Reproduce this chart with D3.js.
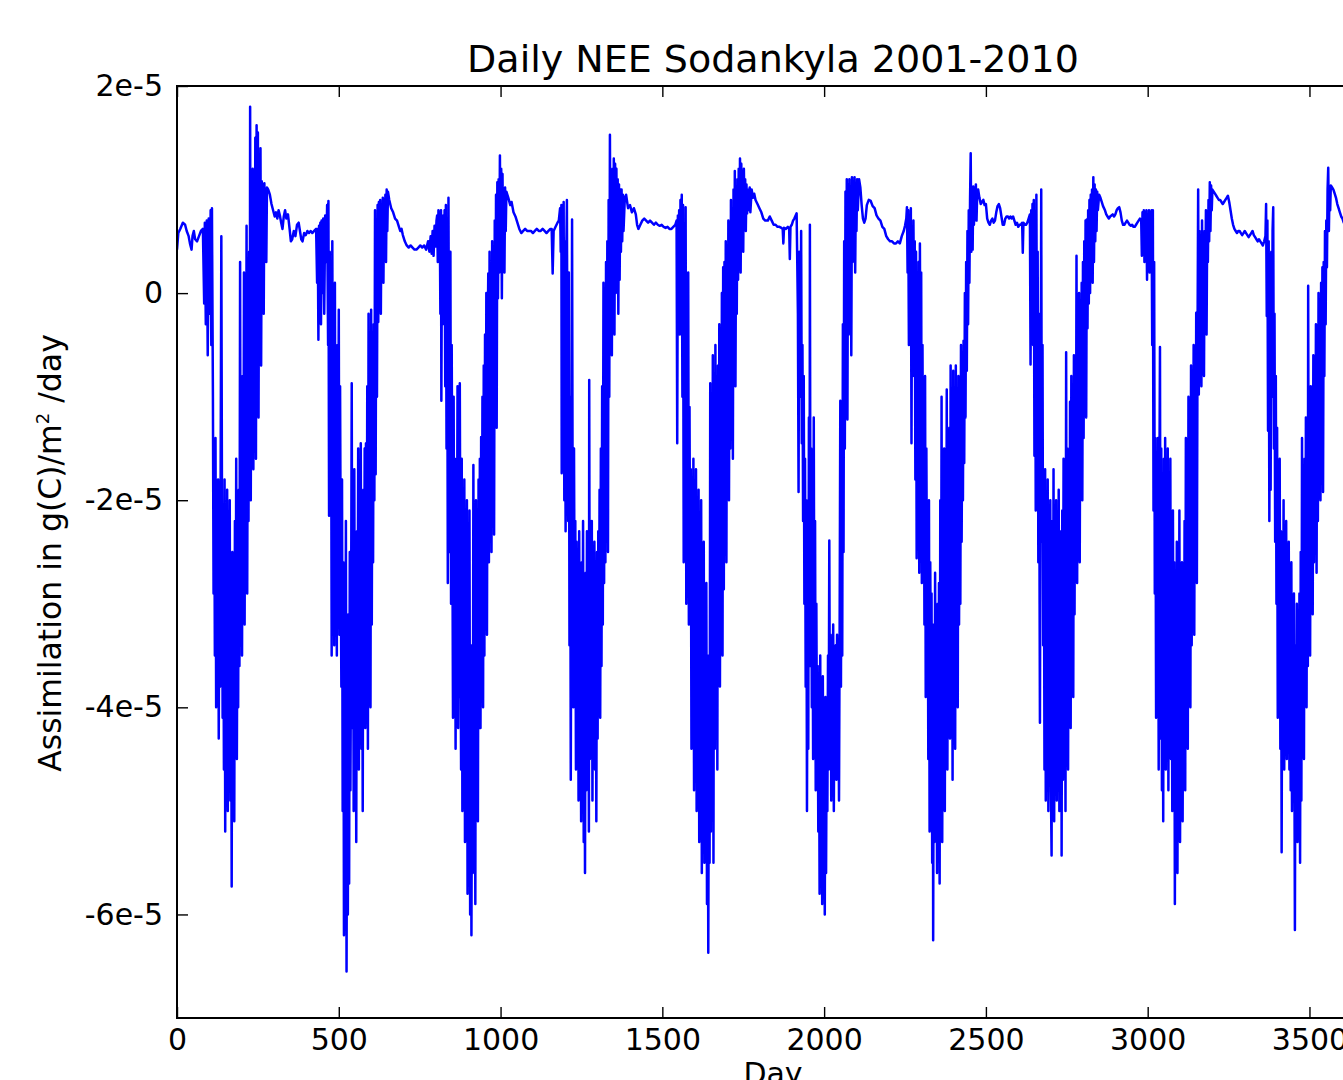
<!DOCTYPE html>
<html>
<head>
<meta charset="utf-8">
<script src="https://cdn.jsdelivr.net/npm/d3@7"></script>
<style>
  body { margin: 0; background: #fff; }
  svg { display: block; font-family: "DejaVu Sans", sans-serif; }
</style>
</head>
<body>
<svg id="chart"></svg>
<script>
const width = 1343;
const height = 1080;
const unit = 1e-5; // values below are in units of 1e-5

const title = 'Daily NEE Sodankyla 2001-2010';
const xTicks = [0, 500, 1000, 1500, 2000, 2500, 3000, 3500];
const yTicks = [-6e-5, -4e-5, -2e-5, 0, 2e-5];
const yTickLabels = ['-6e-5', '-4e-5', '-2e-5', '0', '2e-5'];

// [day, NEE], year by year
const nee2001 = [[0,0.42],[4,0.58],[10,0.62],[18,0.68],[25,0.66],[30,0.6],[36,0.55],[40,0.48],[45,0.42],[48,0.55],[52,0.6],[56,0.52],[62,0.5],[68,0.55],[74,0.6],[80,0.62],
  [84,-0.1],[86,0.68],[89,-0.3],[92,0.7],[95,-0.6],[98,0.72],[101,-0.2],[104,0.8],[106,-0.5],[108,0.82],
  [111,-1.0],[113,-2.9],[115,-1.5],[117,-3.5],[119,-1.4],[121,-4.0],[123,-2.2],[125,-3.3],[127,-1.8],[129,-4.3],[131,-2.5],[133,-3.8],[135,-1.6],[137,0.55],[139,-2.0],[141,-4.1],
  [143,-2.4],[145,-4.6],[147,-1.8],[149,-5.2],[151,-2.6],[153,-4.4],[155,-1.9],[157,-5.0],[159,-2.8],[161,-4.5],[163,-2.0],[165,-4.9],[167,-3.0],[169,-5.73],[171,-2.5],[173,-4.7],[175,-3.2],[177,-5.1],[179,-2.2],[181,-4.2],[183,-1.6],[185,-4.5],[187,-2.7],[189,-4.0],[191,-1.9],[193,-3.6],
  [195,0.3],[197,-3.4],[199,-1.2],[201,-3.5],[203,-0.8],[205,-2.9],[207,0.2],[209,-3.2],[211,-1.0],[213,-2.5],[215,0.65],[217,-2.9],[219,-0.5],[221,-2.2],[223,0.4],[225,-1.4],[226,1.8],[228,-2.0],[230,0.6],[232,-1.2],[234,1.2],[236,-1.7],
  [238,0.5],[240,-1.0],[242,1.5],[244,-1.6],[246,1.62],[248,-0.5],[250,1.55],[252,-1.2],[254,1.1],[256,0.2],[258,1.4],[260,-0.7],[262,1.08],[264,0.3],[266,1.05],[268,-0.2],[270,1.06],[272,0.5],[274,1.0],[276,0.3],[278,1.02],
  [282,1.0],[287,0.95],[292,0.86],[297,0.8],[302,0.74],[306,0.78],[310,0.72],[314,0.8],[318,0.75],
  [322,0.68],[326,0.62],[330,0.74],[334,0.8],[338,0.72],[343,0.76],[348,0.62],[352,0.5],[356,0.52]];

const nee2002 = [[361,0.6],[366,0.55],[371,0.66],[376,0.68],[380,0.6],[384,0.52],[388,0.5],[393,0.58],[398,0.56],[403,0.6],[408,0.58],[413,0.6],[418,0.58],[424,0.6],[430,0.62],
  [433,0.1],[435,0.62],[437,-0.45],[439,0.65],[441,0.2],[443,0.68],[445,-0.3],[447,0.7],[449,0.0],[452,0.72],[455,-0.2],[458,0.75],[461,0.3],[464,0.85],[467,-0.5],[468,0.89],
  [470,-2.15],[472,0.4],[474,-1.6],[476,-0.2],[478,-3.5],[480,0.5],[482,-2.0],[484,-0.6],[486,-3.4],[488,0.1],[490,-2.5],[492,-1.0],[494,-3.5],[496,-0.5],[498,-2.0],[500,-0.16],[502,-3.3],[504,-0.9],[506,-2.6],[508,-3.8],[510,-1.8],[512,-5.0],[514,-2.6],[516,-6.2],[518,-3.0],[520,-5.5],[522,-2.2],[524,-6.55],[526,-4.0],[528,-6.0],[530,-3.1],[532,-5.7],[534,-2.5],[536,-4.8],[538,-3.2],[540,-0.87],[542,-4.2],[544,-2.0],[546,-5.0],[548,-1.7],[550,-4.4],[552,-2.6],[554,-5.3],[556,-2.3],[558,-4.0],[560,-1.5],[562,-4.6],[564,-2.0],[566,-3.6],[568,-1.45],[570,-4.4],[572,-2.5],[574,-5.0],[576,-1.9],[578,-3.9],[580,-1.5],
  [582,-4.2],[584,-1.45],[586,-3.8],[588,-0.9],[590,-4.4],[592,-0.2],[594,-3.6],[596,-1.5],[598,-4.0],[600,-0.16],[602,-3.2],[604,-0.8],[606,-2.6],[608,-0.3],[610,-2.0],[612,0.8],[614,-1.75],[616,0.5],[618,-1.0],
  [620,0.85],[622,-0.28],[624,0.88],[626,0.0],[628,0.9],[630,-0.2],[632,0.86],[634,0.3],[636,0.92],[638,0.1],[640,0.9],[642,0.4],[644,0.95],[646,0.3],[648,1.0],[650,0.6],[652,0.98],
  [656,0.9],[662,0.82],[668,0.78],[674,0.72],[680,0.7],[686,0.64],[690,0.6],[694,0.62],[698,0.56],[704,0.5],[710,0.46],[716,0.44],[722,0.46],[728,0.44]];

const nee2003 = [[734,0.42],[740,0.42],[746,0.44],[752,0.46],[758,0.44],[764,0.46],[770,0.42],[776,0.5],[780,0.4],[784,0.55],[787,0.38],[790,0.6],[793,0.36],[796,0.65],[799,0.45],[802,0.7],
  [804,0.75],[806,0.3],[808,0.8],[810,0.5],[812,0.78],[814,-0.2],[816,0.8],[817,-1.04],[819,0.6],[821,-0.3],[823,0.75],[825,0.2],[827,0.8],[829,-0.9],[831,0.85],[833,-1.5],[835,0.3],[837,-2.8],[839,0.92],[841,-1.2],
  [843,-2.5],[845,0.4],[847,-3.0],[849,-0.5],[851,-2.2],[853,-4.1],[855,-1.0],[857,-3.6],[859,-1.6],[861,-4.4],[863,-2.0],[865,-3.2],[867,-0.9],[869,-4.2],[871,-1.8],[873,-3.9],[874,-0.87],[876,-2.9],
  [878,-4.6],[880,-1.6],[882,-5.0],[884,-2.2],[886,-4.3],[888,-1.8],[890,-5.3],[892,-2.6],[894,-4.5],[896,-2.0],[898,-5.8],[900,-3.0],[902,-4.9],[904,-2.1],[906,-6.0],[908,-3.4],[910,-6.2],[912,-4.0],[914,-5.6],[916,-1.66],[918,-5.2],[920,-2.4],[922,-5.9],[924,-2.0],[926,-4.6],[928,-2.6],[930,-5.1],[932,-1.8],[934,-4.2],
  [936,-1.6],[938,-4.2],[940,-1.39],[942,-3.8],[944,-1.0],[946,-4.0],[948,-0.7],[950,-3.5],[952,-0.4],[954,-3.0],[956,0.0],[958,-3.3],[960,-0.5],[962,0.19],[964,-2.6],[966,0.4],[968,-2.0],[970,-0.2],[972,-2.5],[974,0.5],[976,-1.6],[978,0.3],[980,-2.33],[982,0.7],[984,-1.0],[986,0.95],[988,-1.3],[990,1.07],
  [992,-0.05],[994,1.1],[996,0.2],[998,1.33],[1000,0.3],[1002,1.2],[1004,-0.05],[1006,1.15],[1008,0.4],[1010,1.0],[1012,0.2],[1014,1.02],[1016,0.6],[1018,0.98],
  [1024,0.92],[1030,0.85],[1034,0.88],[1040,0.78],[1046,0.74],[1052,0.68],[1058,0.62],[1064,0.58],[1070,0.6],[1076,0.62],[1082,0.6],[1088,0.6]];

const nee2004 = [[1094,0.6],[1100,0.58],[1106,0.6],[1112,0.62],[1118,0.6],[1124,0.6],[1130,0.62],[1136,0.6],[1142,0.58],[1148,0.6],[1154,0.62],[1158,0.62],[1161,0.19],[1164,0.6],[1170,0.64],[1176,0.68],[1180,0.7],
  [1184,0.82],[1186,0.4],[1188,0.85],[1189,-1.74],[1191,0.7],[1193,-0.8],[1195,0.88],[1197,-2.0],[1199,0.5],[1201,-2.3],[1203,0.3],[1205,0.9],[1207,-1.2],[1209,-2.2],[1211,0.2],[1213,-3.4],[1215,-1.0],[1217,-4.7],[1219,-2.0],[1221,0.71],[1223,-2.4],[1225,-4.0],[1227,-1.5],[1229,-3.3],
  [1231,-2.2],[1233,-4.6],[1235,-2.4],[1237,-4.0],[1239,-2.8],[1241,-4.9],[1243,-2.3],[1245,-4.4],[1247,-3.0],[1249,-5.1],[1251,-2.6],[1253,-4.3],[1255,-2.2],[1257,-5.3],[1259,-3.1],[1261,-5.6],[1263,-2.7],[1265,-4.8],[1267,-2.3],[1269,-4.1],[1271,-2.9],[1273,-5.2],[1274,-0.84],[1276,-4.5],[1278,-2.6],[1280,-4.0],[1282,-2.2],[1284,-4.9],[1286,-2.7],[1288,-3.9],[1290,-2.4],[1292,-4.6],[1294,-2.8],[1296,-5.1],[1298,-2.5],[1300,-4.3],[1302,-2.3],[1304,-3.8],[1306,-1.9],[1308,-4.1],
  [1310,-1.5],[1312,-3.6],[1314,-0.9],[1316,-3.2],[1318,0.1],[1320,-2.8],[1322,-0.4],[1324,-2.6],[1326,0.3],[1328,-1.8],[1330,0.5],[1332,-2.5],[1334,0.9],[1336,-1.0],[1338,1.53],[1340,-0.3],[1342,0.9],[1344,-0.6],[1346,1.2],[1348,0.2],
  [1350,1.3],[1352,-0.4],[1354,1.25],[1356,0.0],[1358,1.2],[1360,0.3],[1362,1.1],[1364,-0.2],[1366,1.05],[1368,0.13],[1370,1.0],[1372,0.4],[1374,1.0],[1376,0.5],[1378,0.95],[1380,0.6],[1384,0.92],[1388,0.95],
  [1394,0.82],[1400,0.85],[1406,0.78],[1412,0.82],[1418,0.76],[1422,0.66],[1426,0.62],[1432,0.66],[1438,0.7],[1444,0.72],[1450,0.7],[1456,0.68]];

const nee2005 = [[1462,0.7],[1468,0.68],[1474,0.66],[1480,0.68],[1486,0.66],[1492,0.65],[1498,0.66],[1504,0.64],[1510,0.63],[1516,0.64],[1522,0.62],[1528,0.62],[1534,0.64],[1540,0.66],
  [1544,0.7],[1546,-1.45],[1548,0.75],[1550,0.3],[1552,0.8],[1554,-0.4],[1556,0.9],[1558,0.2],[1560,0.95],[1562,-1.0],[1564,0.85],[1566,-2.6],[1568,0.6],[1570,-1.8],[1572,0.83],[1574,-3.0],[1576,-0.5],[1578,-2.3],[1580,0.2],[1582,-3.2],[1584,-1.1],
  [1586,-2.9],[1588,-1.7],[1590,-4.4],[1592,-2.0],[1594,-3.8],[1596,-1.6],[1598,-4.8],[1600,-2.2],[1602,-4.1],[1604,-1.7],[1606,-5.0],[1608,-2.5],[1610,-4.4],[1612,-1.9],[1614,-5.3],[1616,-2.15],[1618,-4.6],[1620,-2.0],[1622,-5.6],[1624,-3.0],[1626,-4.9],[1628,-2.4],[1630,-5.5],[1632,-3.3],[1634,-5.0],[1636,-2.8],[1638,-5.9],[1640,-3.5],[1642,-6.37],[1644,-4.0],[1646,-5.5],
  [1648,-0.87],[1650,-5.2],[1652,-2.0],[1654,-4.7],[1656,-0.6],[1658,-5.5],[1660,-1.3],[1662,-4.4],[1664,-0.5],[1666,-3.9],[1668,-1.1],[1670,-4.6],[1672,-0.7],[1674,-3.5],[1676,-0.3],[1678,-3.8],[1680,-0.9],[1682,-3.2],[1684,0.0],[1686,-3.5],[1688,0.25],
  [1690,-2.86],[1692,0.3],[1694,-2.2],[1696,0.5],[1698,-2.6],[1700,0.2],[1702,-1.8],[1704,0.7],[1706,-2.0],[1708,0.4],[1710,-1.5],[1712,0.9],[1714,-1.2],[1716,0.6],[1718,-1.6],[1720,1.0],[1722,-0.75],[1724,1.18],[1726,-0.9],[1728,0.8],
  [1730,-0.2],[1732,1.1],[1734,0.13],[1736,1.2],[1738,0.3],[1740,1.3],[1742,0.2],[1744,1.25],[1746,0.5],[1748,1.15],[1750,0.4],[1752,1.2],[1754,0.7],[1756,1.1],[1758,0.6],[1760,1.05],[1762,0.77],[1764,1.0],[1766,0.8],
  [1770,1.02],[1772,0.78],[1776,1.0],[1780,0.92],[1784,0.96],[1788,0.9],[1794,0.86],[1800,0.82],[1806,0.78],[1812,0.72],[1818,0.7]];

const nee2006 = [[1826,0.7],[1832,0.74],[1838,0.7],[1844,0.66],[1850,0.66],[1856,0.64],[1862,0.64],[1868,0.63],[1872,0.62],[1874,0.48],[1876,0.63],[1882,0.62],[1888,0.64],[1892,0.62],[1894,0.33],[1896,0.64],[1900,0.66],[1904,0.7],[1908,0.72],[1912,0.75],[1915,0.77],
  [1917,0.3],[1919,-0.2],[1921,-1.92],[1923,0.4],[1925,-0.16],[1927,-1.0],[1929,0.6],[1931,-1.45],[1933,-0.5],[1935,-2.2],[1937,-0.8],[1939,-3.0],[1941,-1.6],[1943,-3.8],[1945,-2.0],[1947,-5.0],[1949,-2.6],[1951,-4.4],[1953,-1.2],[1955,-3.6],[1956,0.66],[1958,-3.2],[1960,-1.5],[1962,-4.0],[1964,-2.6],[1966,-4.5],[1968,-1.2],[1970,-3.9],[1972,-2.2],[1974,-4.8],[1976,-3.0],
  [1978,-4.6],[1980,-3.6],[1982,-5.2],[1984,-3.8],[1986,-5.8],[1988,-3.5],[1990,-5.4],[1992,-4.0],[1994,-5.9],[1996,-3.7],[1998,-5.2],[2000,-4.1],[2002,-6.0],[2004,-3.9],[2006,-5.6],[2008,-4.2],[2010,-5.0],[2012,-3.5],[2014,-4.6],[2016,-2.39],
  [2018,-4.4],[2020,-3.3],[2022,-4.9],[2024,-3.6],[2026,-4.5],[2028,-3.2],[2030,-5.0],[2032,-3.5],[2034,-4.2],[2036,-3.4],[2038,-4.7],[2040,-3.3],[2042,-4.4],[2044,-3.6],[2046,-4.9],[2048,-3.2],[2050,-1.04],[2052,-3.8],[2054,-1.6],[2056,-3.5],
  [2058,-0.3],[2060,-2.5],[2062,0.5],[2064,-1.5],[2066,0.98],[2068,-1.2],
  [2070,1.1],[2072,-1.22],[2074,1.05],[2076,-0.4],[2078,1.1],[2080,0.0],[2082,1.0],[2084,-0.6],[2086,1.12],[2088,0.3],[2090,1.08],[2092,0.5],[2094,1.12],[2096,0.2],[2098,1.0],[2100,0.6],[2102,1.1],[2104,0.8],[2108,1.1],[2112,1.02],[2116,0.85],[2120,0.72],[2124,0.68],[2128,0.72],[2132,0.85],
  [2138,0.9],[2144,0.89],[2150,0.84],[2156,0.82],[2162,0.75],[2168,0.72],[2174,0.7],[2180,0.64],[2186,0.62]];

const nee2007 = [[2192,0.55],[2198,0.52],[2204,0.5],[2210,0.5],[2216,0.48],[2222,0.48],[2228,0.5],[2234,0.48],[2240,0.55],[2246,0.6],[2250,0.65],[2254,0.72],
  [2256,0.83],[2258,0.2],[2260,0.8],[2262,-0.5],[2264,0.75],[2266,0.1],[2268,0.82],[2270,-1.45],[2272,0.6],[2274,-0.8],[2276,0.7],[2278,-0.2],[2280,0.5],[2282,-1.8],[2284,0.4],[2286,-2.56],[2288,-0.3],[2290,-1.9],[2292,0.3],[2294,-2.7],
  [2296,0.48],[2298,-1.2],[2300,0.2],[2302,-2.8],[2304,-0.5],[2306,-2.2],[2308,-1.0],[2310,-3.2],[2312,-0.8],[2314,-3.9],[2316,-1.5],[2318,-3.0],[2320,-2.2],[2322,-4.5],[2324,-2.0],[2326,-5.2],[2328,-2.6],[2330,-3.8],[2332,-2.9],[2334,-5.5],[2336,-3.2],[2337,-6.25],[2339,-3.5],[2341,-5.3],[2343,-2.7],[2345,-4.8],[2347,-3.5],[2349,-5.6],[2351,-3.0],[2353,-4.6],[2355,-2.8],
  [2357,-5.7],[2359,-2.0],[2361,-4.8],[2363,-1.0],[2365,-5.3],[2367,-2.6],[2369,-4.4],[2371,-1.5],[2373,-5.0],[2375,-2.2],[2377,-4.1],[2379,-0.93],[2381,-4.6],[2383,-2.0],[2385,-3.9],[2387,-1.3],[2389,-4.3],[2391,-0.7],[2393,-3.9],[2395,-1.6],[2397,-4.7],[2399,-0.75],
  [2401,-3.85],[2403,-1.2],[2405,-4.4],[2407,-0.7],[2409,-3.5],[2411,-1.8],[2413,-4.0],[2415,-0.8],[2417,-3.2],[2419,-1.5],[2421,-3.0],[2423,-0.5],[2425,-2.4],[2427,-1.0],[2429,-2.0],[2431,-0.46],[2433,-1.64],
  [2435,0.0],[2437,-1.2],[2439,0.3],[2441,-0.75],[2443,0.6],[2445,-0.3],[2447,0.8],[2449,0.1],[2451,0.9],[2453,1.35],[2455,0.4],[2457,1.0],[2459,0.42],[2461,1.03],
  [2463,0.66],[2465,1.0],[2467,0.8],[2469,1.05],[2471,0.7],[2473,0.95],[2476,1.0],[2480,0.92],[2484,0.86],[2488,0.88],[2492,0.9],[2496,0.85],[2500,0.86],
  [2504,0.72],[2508,0.68],[2512,0.66],[2516,0.7],[2520,0.72],[2524,0.68],[2528,0.7],[2532,0.78],[2536,0.84],[2540,0.86],[2544,0.82],[2548,0.74],[2552,0.66]];

const nee2008 = [[2556,0.66],[2560,0.72],[2564,0.74],[2568,0.74],[2572,0.72],[2576,0.74],[2580,0.72],[2584,0.74],[2588,0.7],[2592,0.66],[2596,0.68],[2600,0.64],[2604,0.66],[2608,0.66],[2612,0.68],[2614,0.39],[2616,0.68],[2620,0.66],[2624,0.66],[2628,0.68],[2632,0.72],
  [2636,0.76],[2638,-0.69],[2640,0.8],[2642,0.3],[2644,0.86],[2646,-0.5],[2648,0.9],[2650,-1.57],[2652,0.7],[2654,-2.1],[2656,0.95],[2658,-1.0],[2660,0.4],[2662,-2.6],[2664,-0.2],[2666,-3.0],[2667,-4.15],[2669,-1.5],[2671,1.0],[2673,-2.4],[2675,-0.5],[2677,-3.4],[2679,-1.8],
  [2681,-4.6],[2683,-1.7],[2685,-4.9],[2687,-2.4],[2689,-4.2],[2691,-1.8],[2693,-5.0],[2695,-2.6],[2697,-4.4],[2699,-2.0],[2701,-4.8],[2703,-5.43],[2705,-2.2],[2707,-4.6],[2709,-1.7],[2711,-5.1],[2713,-2.5],[2715,-4.3],[2717,-2.0],[2719,-4.9],[2721,-2.6],[2723,-4.5],[2725,-1.9],[2727,-5.0],[2729,-2.3],[2731,-4.6],[2733,-2.8],[2734,-5.43],[2736,-2.1],[2738,-4.7],[2740,-1.6],[2742,-4.4],[2744,-2.2],[2746,-5.0],[2748,-0.57],[2750,-4.2],[2752,-1.5],[2754,-4.6],[2756,-2.0],[2758,-3.9],
  [2760,-1.05],[2762,-4.2],[2764,-0.8],[2766,-3.6],[2768,-1.2],[2770,-3.9],[2772,-0.6],[2774,-3.1],[2776,-0.9],[2778,-2.6],[2780,0.36],[2782,-2.8],[2784,-0.3],[2786,-2.2],[2788,0.0],[2790,-2.6],[2792,-0.4],[2794,-1.8],[2796,0.1],[2798,-2.0],[2800,0.3],[2802,-1.4],[2804,0.5],[2806,-1.1],[2808,0.7],[2810,-1.2],
  [2812,0.71],[2814,-0.34],[2816,0.8],[2818,-0.1],[2820,0.9],[2822,0.0],[2824,0.95],[2826,0.2],[2828,1.0],[2830,0.1],[2832,1.12],[2834,0.3],[2836,1.05],[2838,0.5],[2840,1.0],[2842,0.6],[2844,0.98],[2846,0.8],[2850,0.95],[2854,0.92],[2858,0.88],[2862,0.84],
  [2868,0.8],[2872,0.76],[2876,0.74],[2880,0.72],[2884,0.74],[2888,0.75],[2892,0.76],[2896,0.74],[2900,0.76],[2904,0.8],[2908,0.82],[2912,0.83],[2916,0.78]];

const nee2009 = [[2920,0.7],[2924,0.66],[2928,0.66],[2932,0.68],[2936,0.7],[2940,0.68],[2944,0.66],[2948,0.65],[2952,0.66],[2956,0.64],[2960,0.64],[2964,0.66],[2968,0.68],[2972,0.7],[2976,0.72],[2980,0.7],
  [2982,0.36],[2984,0.78],[2986,0.5],[2988,0.8],[2990,0.3],[2992,0.78],[2994,0.5],[2996,0.8],[2998,0.13],[3000,0.76],[3002,0.4],[3004,0.8],[3006,0.2],[3008,0.78],[3010,0.3],[3012,0.8],
  [3014,-0.5],[3016,0.8],[3018,-2.1],[3020,0.3],[3022,-2.9],[3024,-1.4],[3026,-4.1],[3028,-1.6],[3030,-3.5],[3032,-1.4],[3034,-4.6],[3036,-2.0],[3038,-0.52],[3040,-4.3],[3042,-1.5],[3044,-4.8],[3046,-2.2],[3048,-5.1],
  [3050,-1.6],[3052,-4.2],[3054,-1.4],[3056,-4.6],[3058,-2.3],[3060,-4.0],[3062,-1.5],[3064,-4.8],[3066,-2.5],[3068,-4.3],[3070,-1.6],[3072,-4.5],[3074,-2.8],[3076,-5.0],[3078,-2.1],[3080,-4.4],
  [3082,-2.6],[3084,-5.9],[3086,-3.0],[3088,-5.3],[3090,-2.4],[3092,-5.6],[3094,-3.2],[3096,-4.9],[3098,-2.1],[3100,-5.3],[3102,-3.4],[3104,-4.7],[3106,-2.6],[3108,-5.1],[3110,-3.0],[3112,-4.5],[3114,-2.2],[3116,-4.8],[3118,-1.4],[3120,-4.2],
  [3122,-1.8],[3124,-4.4],[3126,-1.0],[3128,-3.8],[3130,-1.5],[3132,-4.0],[3134,-0.7],[3136,-3.4],[3138,-1.2],[3140,-3.0],[3142,-0.5],[3144,-3.3],[3146,-0.9],[3148,-2.6],[3150,-0.19],[3152,-2.8],[3154,-0.5],
  [3156,1.0],[3158,-0.98],[3160,0.6],[3162,-0.64],[3164,0.4],[3166,-0.9],[3168,0.7],[3170,-0.3],[3172,0.5],[3174,-0.8],[3176,0.6],[3178,0.0],[3180,0.8],[3182,-0.4],[3184,0.7],[3186,0.3],[3188,0.9],[3190,0.5],[3192,1.07],
  [3194,0.6],[3196,1.04],[3198,0.8],[3200,1.0],[3204,0.98],[3208,0.96],[3212,0.94],[3216,0.92],[3220,0.9],[3224,0.9],[3228,0.88],[3232,0.86],[3236,0.88],[3240,0.9],[3244,0.92],[3248,0.94],[3252,0.88],
  [3256,0.8],[3260,0.72],[3264,0.66],[3268,0.62],[3272,0.6],[3276,0.58],[3280,0.6],[3284,0.6]];

const nee2010 = [[3288,0.58],[3292,0.56],[3296,0.58],[3300,0.6],[3304,0.58],[3308,0.56],[3312,0.54],[3316,0.56],[3320,0.58],[3324,0.6],[3328,0.56],[3332,0.54],[3336,0.52],[3340,0.5],[3344,0.52],[3348,0.5],[3352,0.48],[3356,0.46],[3360,0.5],[3364,0.55],
  [3366,0.86],[3368,-0.22],[3370,0.7],[3372,-1.33],[3374,0.5],[3376,-2.2],[3378,-0.3],[3380,-1.9],[3382,0.4],[3384,-1.0],[3386,0.6],[3388,0.83],[3390,-1.5],[3392,-0.2],[3394,-2.4],
  [3396,-0.8],[3398,-3.0],[3400,-1.3],[3402,-4.1],[3404,-2.0],[3406,-3.6],[3408,-1.6],[3410,-4.4],[3412,-2.3],[3414,-5.4],[3416,-2.8],[3418,-4.2],[3420,-2.0],[3422,-4.6],[3424,-3.0],[3426,-4.1],[3428,-2.2],[3430,-4.5],[3432,-3.2],[3434,-4.3],[3436,-2.4],[3438,-4.6],[3440,-3.0],[3442,-4.8],[3444,-2.6],[3446,-5.0],[3448,-3.3],[3450,-4.4],[3452,-2.9],[3455,-6.15],[3457,-3.4],[3459,-5.0],[3461,-3.0],[3463,-5.3],[3465,-3.6],[3467,-4.7],[3469,-2.9],
  [3471,-5.5],[3473,-2.5],[3475,-4.9],[3477,-1.4],[3479,-4.2],[3481,-2.0],[3483,-4.5],[3485,-1.6],[3487,-3.8],[3489,-1.2],[3491,-4.0],
  [3493,-1.5],[3495,-3.6],[3496,0.07],[3498,-3.2],[3500,-1.2],[3502,-3.5],[3504,-0.9],[3506,-2.9],[3508,-1.0],[3510,-3.1],[3512,-0.6],[3514,-2.6],[3516,-0.8],[3518,-2.4],[3520,-0.3],[3522,-2.7],[3524,-0.5],[3526,-2.2],[3528,0.0],[3530,-1.9],[3532,-0.2],[3534,-2.0],[3536,0.1],[3538,-1.5],[3540,0.25],[3542,-1.92],
  [3544,0.3],[3546,-0.8],[3548,0.6],[3550,-0.3],[3552,0.7],[3554,0.25],[3556,1.0],[3558,1.21],[3560,0.6],[3562,1.0],[3564,0.8],
  [3566,1.04],[3570,1.02],[3574,1.0],[3578,0.96],[3582,0.92],[3586,0.86],[3590,0.82],[3594,0.78],[3598,0.74],[3602,0.72],[3606,0.68],[3612,0.66]];

const generateChart = () => {
    const margin = { top: 86, left: 177, bottom: 62 };
    const plotRight = 1369; // right spine sits just past the visible edge
    const plotBottom = height - margin.bottom;

    const data = [].concat(nee2001, nee2002, nee2003, nee2004, nee2005,
                           nee2006, nee2007, nee2008, nee2009, nee2010)
        .sort((a, b) => a[0] - b[0]);

    const x = d3.scaleLinear().domain([0, 3684]).range([margin.left, plotRight]);
    const y = d3.scaleLinear().domain([-7e-5, 2e-5]).range([plotBottom, margin.top]);

    const svg = d3.select('#chart')
        .attr('width', width)
        .attr('height', height);

    svg.append('defs').append('clipPath').attr('id', 'plot-clip')
        .append('rect')
        .attr('x', margin.left).attr('y', margin.top)
        .attr('width', plotRight - margin.left)
        .attr('height', plotBottom - margin.top);

    const line = d3.line()
        .x(d => x(d[0]))
        .y(d => y(d[1] * unit));

    svg.append('path')
        .datum(data)
        .attr('clip-path', 'url(#plot-clip)')
        .attr('fill', 'none')
        .attr('stroke', '#0000ff')
        .attr('stroke-width', 2.5)
        .attr('stroke-linejoin', 'round')
        .attr('d', line);

    // axes, ticks pointing inward like matplotlib classic
    svg.append('g')
        .attr('transform', `translate(0,${plotBottom})`)
        .call(d3.axisBottom(x).tickValues(xTicks).tickFormat(d3.format('d'))
            .tickSizeInner(-11).tickSizeOuter(0).tickPadding(11));

    svg.append('g')
        .attr('transform', `translate(0,${margin.top})`)
        .call(d3.axisTop(x).tickValues(xTicks).tickFormat('')
            .tickSizeInner(-11).tickSizeOuter(0));

    svg.append('g')
        .attr('transform', `translate(${margin.left},0)`)
        .call(d3.axisLeft(y).tickValues(yTicks).tickFormat((d, i) => yTickLabels[i])
            .tickSizeInner(-11).tickSizeOuter(0).tickPadding(14));

    svg.selectAll('.domain').remove();
    svg.selectAll('.tick line').attr('stroke', '#000').attr('stroke-width', 1.4);
    svg.selectAll('.tick text')
        .attr('fill', '#000')
        .style('font-family', '"DejaVu Sans", sans-serif')
        .style('font-size', '30px');

    // frame
    svg.append('rect')
        .attr('x', margin.left).attr('y', margin.top)
        .attr('width', plotRight - margin.left)
        .attr('height', plotBottom - margin.top)
        .attr('fill', 'none')
        .attr('stroke', '#000')
        .attr('stroke-width', 2);

    svg.append('text')
        .attr('x', (margin.left + plotRight) / 2)
        .attr('y', 72)
        .attr('text-anchor', 'middle')
        .style('font-size', '38px')
        .text(title);

    svg.append('text')
        .attr('x', (margin.left + plotRight) / 2)
        .attr('y', 1084)
        .attr('text-anchor', 'middle')
        .style('font-size', '30px')
        .text('Day');

    const ylab = svg.append('text')
        .attr('transform', 'translate(61,553) rotate(-90)')
        .attr('text-anchor', 'middle')
        .style('font-size', '31.5px');
    ylab.append('tspan').text('Assimilation in g(C)/m');
    ylab.append('tspan').attr('dy', -12).style('font-size', '18px').text('2');
    ylab.append('tspan').attr('dy', 12).text(' /day');
};

generateChart();
</script>
</body>
</html>
